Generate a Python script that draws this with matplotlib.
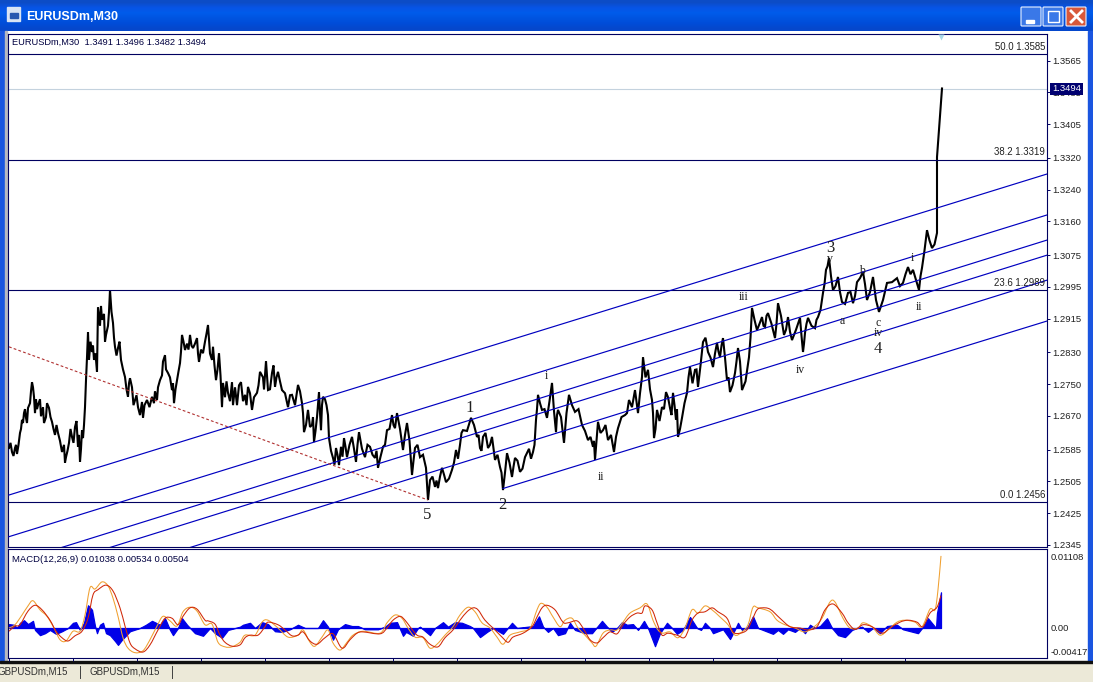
import numpy as np
import matplotlib
matplotlib.use("Agg")
import matplotlib.pyplot as plt
from matplotlib.patches import Rectangle, FancyBboxPatch, PathPatch
from matplotlib.path import Path

# --- price trace (bar position, price) ---
bars = [9,12,15,17,20,22,24,26,28,32,34,35,38,42,44,49,52,55,58,62,66,69,72,75,78,80,82,83,85,86,88,89,92,94,97,98,
        102,106,110,113,115,118,121,125,128,130,135,138,142,143,147,152,157,160,165,168,172,174,177,180,182,185,190,193,197,199,
        203,208,212,213,216,219,222,223,228,232,233,241,245,248,252,257,260,266,268,272,275,278,282,288,292,298,302,304,308,312,
        314,317,319,321,323,328,329,333,336,339,344,347,352,356,359,365,370,375,378,383,387,392,395,397,403,407,412,415,420,426,
        428,430,435,438,442,446,452,456,460,463,471,477,480,483,488,492,495,500,503,507,512,515,520,525,533,536,538,542,547,552,
        556,558,564,569,575,582,588,593,595,598,603,608,614,618,625,629,635,638,642,643,648,652,654,657,662,666,670,673,676,678,
        682,687,690,695,698,703,708,713,717,720,723,727,730,735,738,742,749,752,757,762,765,768,775,778,784,788,792,800,803,805,
        808,815,818,823,826,829,833,838,842,848,853,857,863,867,873,879,887,897,903,908,913,919,922,927,932,937,937,939,940,942]
prices = [1.2592,1.2582,1.2592,1.2577,1.2630,1.2663,1.2680,1.2668,1.2693,1.2758,1.2721,1.2680,1.2700,1.2683,1.2655,1.2693,1.2658,1.2625,1.2630,1.2582,1.2569,1.2605,1.2620,1.2645,1.2595,1.2557,1.2637,1.2617,1.2695,1.2763,1.2884,1.2814,1.2834,1.2814,1.2784,1.2947,
          1.2915,1.2877,1.2990,1.2907,1.2847,1.2844,1.2814,1.2771,1.2721,1.2768,1.2713,1.2695,1.2708,1.2668,1.2713,1.2721,1.2713,1.2763,1.2826,1.2781,1.2738,1.2705,1.2763,1.2806,1.2877,1.2839,1.2877,1.2844,1.2869,1.2809,
          1.2831,1.2902,1.2814,1.2847,1.2763,1.2831,1.2695,1.2756,1.2731,1.2758,1.2700,1.2758,1.2726,1.2746,1.2688,1.2731,1.2784,1.2811,1.2738,1.2781,1.2746,1.2784,1.2738,1.2695,1.2726,1.2751,1.2705,1.2632,1.2688,1.2650,
          1.2607,1.2670,1.2733,1.2637,1.2721,1.2675,1.2617,1.2567,1.2592,1.2549,1.2617,1.2569,1.2620,1.2557,1.2632,1.2569,1.2595,1.2567,1.2542,1.2595,1.2637,1.2675,1.2642,1.2680,1.2587,1.2655,1.2524,1.2592,1.2569,1.2542,
          1.2461,1.2511,1.2494,1.2491,1.2542,1.2506,1.2537,1.2587,1.2600,1.2637,1.2668,1.2620,1.2592,1.2620,1.2592,1.2620,1.2562,1.2544,1.2486,1.2579,1.2519,1.2567,1.2532,1.2569,1.2582,1.2663,1.2726,1.2688,1.2668,1.2756,
          1.2632,1.2688,1.2605,1.2726,1.2683,1.2650,1.2612,1.2595,1.2562,1.2658,1.2637,1.2612,1.2582,1.2642,1.2675,1.2713,1.2738,1.2680,1.2771,1.2821,1.2789,1.2713,1.2617,1.2688,1.2695,1.2733,1.2693,1.2731,1.2663,1.2620,
          1.2668,1.2731,1.2796,1.2789,1.2746,1.2859,1.2834,1.2796,1.2857,1.2821,1.2869,1.2763,1.2733,1.2781,1.2844,1.2738,1.2821,1.2945,1.2889,1.2922,1.2897,1.2932,1.2869,1.2957,1.2877,1.2922,1.2864,1.2920,1.2834,1.2882,
          1.2920,1.2894,1.2922,1.2983,1.3041,1.3071,1.2990,1.3023,1.2960,1.2983,1.2957,1.3010,1.3036,1.2965,1.3023,1.2935,1.3008,1.3020,1.3008,1.3048,1.3041,1.2990,1.3046,1.3141,1.3096,1.3134,1.3325,1.3393,1.3424,1.3498]

# smaller swings between the main turning points
extra_bars = [10.5,13.5,16,18.5,21,23,25,27,30,31,33,36,37,40,41,43,46,47,50.5,53.5,56.5,60,64,65,67.5,70.5,73.5,76.5,79,81,84,87,90.5,93,95.5,96.5,
              100,101,104,105,108,109,111.5,114,116.5,119.5,123,126.5,129,132,133.5,136.5,140,144.5,149.5,154,155,158,162,163,166,170,173,175.5,178.5,181,
              183.5,187,188.5,191.5,195,198,201,205,206.5,210,214.5,217.5,220.5,225,226.5,230,235,237,239,243,246.5,250,254,258.5,263,264,267,270,273.5,276.5,
              280,285,290,295,300,303,306,310,313,315.5,318,320,322,325,326.5,
              331,334.5,337.5,341,342.5,345.5,349.5,354,357.5,362,367.5,372.5,376.5,380.5,385,389.5,393.5,396,400,405,409.5,413.5,417.5,423,427,432.5,436.5,440,444,449,
              454,458,461.5,467,474,478.5,481.5,485.5,490,493.5,497.5,501.5,505,509.5,513.5,517.5,522.5,529,531,534.5,537,540,544.5,549.5,554,557,561,566.5,572,578.5,
              585,590.5,594,596.5,600.5,605.5,611,616,621.5,627,632,636.5,640,
              645.5,650,653,655.5,659.5,664,668,671.5,674.5,677,680,684.5,688.5,692.5,696.5,700.5,705.5,710.5,715,718.5,721.5,725,728.5,732.5,736.5,740,745.5,750.5,754.5,759.5,
              763.5,766.5,771.5,776.5,781,786,790,796,801.5,804,806.5,811.5,816.5,820.5,824.5,827.5,831,835.5,840,845,850.5,855,860,865,870,876,883,892,900,905.5,910.5,916,920.5,924.5,929.5,934.5]
extra_prices = [1.2605,1.2572,1.2600,1.2600,1.2640,1.2655,1.2690,1.2655,1.2705,1.2735,1.2745,1.2715,1.2690,1.2715,1.2672,1.2695,1.2670,1.2705,1.2670,1.2640,1.2650,1.2610,1.2600,1.2555,1.2585,1.2640,1.2605,1.2660,1.2625,1.2590,1.2650,1.2820,1.2860,1.2850,1.2830,1.2800,
                1.2900,1.2950,1.2930,1.2860,1.2900,1.2935,1.2935,1.2870,1.2825,1.2860,1.2790,1.2740,1.2755,1.2745,1.2700,1.2725,1.2675,1.2700,1.2695,1.2705,1.2735,1.2745,1.2775,1.2810,1.2790,1.2770,1.2755,1.2740,1.2785,1.2835,
                1.2860,1.2855,1.2840,1.2850,1.2855,1.2830,1.2840,1.2860,1.2880,1.2830,1.2800,1.2790,1.2775,1.2720,1.2760,1.2710,1.2745,1.2700,1.2750,1.2710,1.2700,1.2730,1.2720,1.2750,1.2770,1.2740,1.2775,1.2740,1.2800,1.2770,
                1.2760,1.2730,1.2725,1.2700,1.2735,1.2680,1.2650,1.2645,1.2670,1.2635,1.2700,1.2680,1.2700,1.2715,1.2700,
                1.2585,1.2550,1.2575,1.2595,1.2570,1.2595,1.2600,1.2590,1.2600,1.2590,1.2600,1.2575,1.2585,1.2570,1.2600,1.2640,1.2650,1.2660,1.2640,1.2625,1.2610,1.2560,1.2600,1.2575,1.2500,1.2520,1.2510,1.2520,1.2525,1.2515,
                1.2555,1.2565,1.2630,1.2635,1.2650,1.2625,1.2585,1.2630,1.2600,1.2590,1.2575,1.2530,1.2530,1.2555,1.2545,1.2560,1.2540,1.2590,1.2565,1.2600,1.2690,1.2705,1.2690,1.2710,1.2685,1.2675,1.2670,1.2680,1.2700,1.2690,
                1.2635,1.2620,1.2610,1.2610,1.2630,1.2650,1.2625,1.2620,1.2670,1.2680,1.2695,1.2710,1.2730,
                1.2770,1.2740,1.2680,1.2640,1.2660,1.2690,1.2720,1.2675,1.2700,1.2690,1.2640,1.2705,1.2770,1.2755,1.2790,1.2800,1.2870,1.2820,1.2830,1.2835,1.2850,1.2820,1.2770,1.2750,1.2810,1.2810,1.2760,1.2870,1.2915,1.2905,
                1.2900,1.2925,1.2905,1.2905,1.2925,1.2890,1.2885,1.2890,1.2875,1.2855,1.2905,1.2900,1.2915,1.2940,1.3005,1.3050,1.3025,1.3000,1.2985,1.2955,1.2985,1.2975,1.3020,1.3005,1.2985,1.2965,1.2965,1.3010,1.3000,1.3030,1.3030,1.3015,1.3025,1.3090,1.3115,1.3105]

# --- fibonacci levels ---
fib_pct = ["50.0", "38.2", "23.6", "0.0"]
fib_levels = [1.3585, 1.3319, 1.2989, 1.2456]
last_price = 1.3494

# --- parallel channel lines: start bar, price there, price at the right edge ---
chan_start = [9, 9, 9, 9, 9, 503]
chan_left = [1.24736, 1.23686, 1.2300, 1.2262, 1.2199, 1.2490]
chan_right = [1.32825, 1.31793, 1.3116, 1.3078, 1.3015, 1.2912]

trend_bars = [9, 428]
trend_prices = [1.2847, 1.2461]

# --- wave count labels ---
wave_text = ["5", "2", "1", "i", "ii", "iii", "iv", "3", "v", "a", "b", "c", "iv", "4", "i", "ii"]
wave_bar = [427, 502, 470, 546, 601, 744, 800, 830, 830, 842, 862, 878, 878, 878, 912, 919]
wave_price = [1.2423, 1.2448, 1.2693, 1.2774, 1.2519, 1.2973, 1.2789, 1.3096, 1.3068, 1.2912, 1.3038, 1.2907, 1.2882, 1.2842, 1.3071, 1.2947]
wave_big = [True, True, True, False, False, False, False, True, False, False, False, False, False, True, False, False]

price_ticks = [1.3565, 1.3485, 1.3405, 1.3320, 1.3240, 1.3160, 1.3075, 1.2995, 1.2915, 1.2830, 1.2750, 1.2670, 1.2585, 1.2505, 1.2425, 1.2345]

# --- MACD panel, values in pips (0.0001) ---
signal_x = [9,15,20,28,35,42,50,56,62,68,75,82,88,93,98,106,113,120,125,130,135,143,150,158,165,172,178,183,190,197,205,208,215,220,225,232,240,245,250,258,265,268,278,285,292,298,303,310,317,325,333,342,350,357,363,380,387,393,400,405,410,417,423,430,438,445,453,460,467,473,478,485,493,502,508,513,523,532,537,542,547,555,563,568,577,583,590,597,603,610,617,623,630,637,642,645,652,657,662,668,677,685,692,698,705,712,718,727,733,740,747,752,757,762,770,780,790,800,808,817,825,833,842,848,855,863,872,882,890,900,908,917,923,930,937,941]
signal_pips = [-5,3,5,26,35,28,12,-5,-15,-20,-12,-5,15,51,59,66,57,31,3,-23,-32,-37,-26,-3,15,15,5,18,31,29,12,11,6,-11,-22,-28,-26,-15,-11,-11,2,9,5,-3,-12,-11,-6,-20,-25,-15,-9,-31,-18,-8,-6,-9,0,12,18,12,2,-11,-14,-25,-29,-15,-3,12,25,31,28,12,0,-14,-22,-14,-8,2,17,31,35,28,9,8,11,0,-18,-23,-15,-6,-9,5,17,23,23,34,28,8,-11,-8,-11,-14,12,23,25,31,25,15,-6,-8,-3,12,28,31,29,15,2,0,-3,2,28,37,23,8,-2,5,2,-8,0,9,12,9,2,23,32,50]

main_x = [9,15,22,28,33,40,47,54,60,66,73,80,85,90,95,102,108,113,118,123,128,135,143,150,157,163,170,177,183,190,197,205,212,218,225,232,240,245,255,262,268,278,288,298,303,310,315,322,328,333,340,347,353,363,380,387,395,402,408,415,423,430,437,445,453,460,468,475,482,490,497,503,510,520,530,537,541,547,553,560,565,572,578,585,592,596,603,610,617,623,630,640,647,653,658,663,670,678,685,692,698,705,712,720,728,735,742,748,753,758,770,777,785,795,805,815,822,830,835,843,850,858,863,872,880,888,897,905,915,922,930,935,938,941]
main_pips = [0,5,20,34,42,28,18,0,-18,-20,-5,-5,20,62,60,71,65,46,18,-15,-31,-38,-35,-18,3,18,11,3,25,32,26,5,6,-22,-29,-29,-22,-11,-11,9,12,0,-14,-11,-3,-22,-28,-14,-3,-23,-34,-22,-11,-5,-8,8,20,15,0,-14,-15,-31,-25,-11,2,20,32,25,8,0,-14,-25,-11,-6,0,28,38,32,17,2,12,15,0,-11,-23,-28,-8,-3,-3,9,23,31,37,12,-3,-8,-6,-15,0,28,23,34,28,17,5,-11,-6,5,32,31,25,12,5,0,-6,3,15,40,40,15,0,0,8,2,-11,-3,9,12,9,2,29,28,59,111]

hist_x = [9,14,17,20,24,28,33,35,40,45,50,56,62,68,73,76,80,84,88,92,95,97,100,103,106,110,115,118,122,130,140,146,152,160,165,170,173,178,182,187,195,203,210,215,222,228,240,243,250,255,262,268,275,282,290,298,305,313,318,323,328,333,338,345,352,358,365,378,385,390,397,403,406,413,418,420,430,435,443,448,455,462,470,473,480,487,493,503,512,517,533,539,543,548,553,558,565,570,575,585,592,602,607,612,617,622,627,633,638,644,648,655,660,667,672,677,683,690,697,701,705,710,713,723,730,735,738,742,747,753,758,773,778,783,788,795,800,805,810,815,820,827,832,838,845,852,857,862,868,873,880,887,897,903,918,923,928,936,937,941]
hist_pips = [6,5,0,8,12,6,11,-3,-11,-8,-3,-9,-5,0,8,9,-3,8,35,28,3,-8,5,8,-8,-11,-20,-26,-18,-5,0,5,11,5,15,-3,-11,0,15,5,-8,-12,0,-8,-15,-3,2,5,8,0,9,6,-5,-6,-2,5,0,0,0,12,2,-18,-2,6,3,3,-2,-2,2,8,9,-12,-6,-12,0,2,-11,0,9,2,9,8,3,0,-14,-6,0,-9,8,0,3,18,2,-6,0,-11,-8,8,-3,-8,-8,11,2,-6,0,9,5,6,-3,11,0,-28,-8,8,0,-9,-3,17,0,-3,8,0,-8,-2,-17,-2,8,-3,0,18,0,-9,-3,-9,-2,-6,0,-8,5,0,3,15,0,-11,-14,-3,0,2,-6,0,-8,3,5,-2,-8,2,15,0,23,55]

macd_tick_labels = ["0.01108", "0.00", "-0.00417"]
macd_tick_pos = [0.01108, 0.0001, -0.0036]
time_ticks = np.arange(9, 906, 64)

W, H = 1093, 682
NAVY = "#000060"
BLUE = "#0000c0"
TEXT = "#000040"
LABEL_NUDGE = 0.0003  # the terminal draws its price labels a pixel above the true level
plt.rcParams["font.family"] = ["Liberation Sans", "DejaVu Sans"]


def axes_px(fig, left, top, right, bottom):
    # axes from pixel edges measured on the screenshot
    return fig.add_axes([left / W, 1 - bottom / H, (right - left) / W, (bottom - top) / H])


def curve_through(ax, x, y, color, zorder):
    # rounded line through the read points, the terminal's lines are smooth
    n = len(x)
    verts = [(x[0], y[0])]
    codes = [Path.MOVETO]
    for i in range(n - 1):
        a, d = max(i - 1, 0), min(i + 2, n - 1)
        verts.append((x[i] + (x[i + 1] - x[a]) / 6, y[i] + (y[i + 1] - y[a]) / 6))
        verts.append((x[i + 1] - (x[d] - x[i]) / 6, y[i + 1] - (y[d] - y[i]) / 6))
        verts.append((x[i + 1], y[i + 1]))
        codes += [Path.CURVE4] * 3
    ax.add_patch(PathPatch(Path(verts, codes), fc="none", ec=color, lw=0.75, zorder=zorder))


fig = plt.figure(figsize=(W / 100, H / 100), dpi=100, facecolor="white")

# --- window chrome behind the panels ---
bg = fig.add_axes([0, 0, 1, 1])
bg.set_xlim(0, W)
bg.set_ylim(H, 0)
bg.axis("off")
grad = np.array([[0.05, 0.30, 0.78], [0.03, 0.33, 0.90], [0.00, 0.36, 0.92], [0.00, 0.33, 0.88], [0.00, 0.30, 0.85], [0.02, 0.28, 0.80]])
bg.imshow(grad[:, None, :], extent=[0, W, 31, 0], aspect="auto", interpolation="bilinear", zorder=1)
bg.set_xlim(0, W)
bg.set_ylim(H, 0)
bg.add_patch(Rectangle((0, 31), 5, 630, color="#1a55e0", zorder=1))
bg.add_patch(Rectangle((5, 31), 2, 630, color="#b8b8c0", zorder=1))
bg.add_patch(Rectangle((1088, 31), 5, 630, color="#1a55e0", zorder=1))
bg.add_patch(Rectangle((0, 663), W, 19, color="#ece9d8", zorder=1))
bg.add_patch(Rectangle((0, 661), W, 2, color="#101010", zorder=2))
bg.add_patch(Rectangle((7, 7), 13, 14, color="#d8e4f4", zorder=2))
bg.add_patch(Rectangle((10, 13), 8, 5, color="#2858b0", zorder=3))
bg.text(26, 17, "EURUSDm,M30", color="white", fontsize=9, fontweight="bold", va="center", zorder=3)
for left, face in [(1021, "#3a78e8"), (1043, "#3a78e8"), (1066, "#d8583a")]:
    bg.add_patch(FancyBboxPatch((left + 1, 8), 18, 17, boxstyle="round,pad=1", fc=face, ec="#e8f0ff", lw=0.8, zorder=2))
bg.add_patch(Rectangle((1026, 20), 8, 3, color="white", zorder=3))
bg.add_patch(Rectangle((1048, 11), 11, 11, fc="none", ec="white", lw=1, zorder=3))
bg.plot([1071, 1082], [11, 22], color="white", lw=2, zorder=3)
bg.plot([1071, 1082], [22, 11], color="white", lw=2, zorder=3)
bg.text(-2, 672, "GBPUSDm,M15", fontsize=7, color="#303030", va="center", zorder=3)
bg.text(90, 672, "GBPUSDm,M15", fontsize=7, color="#303030", va="center", zorder=3)
bg.plot([80, 80], [666, 678], color="#404040", lw=0.7, zorder=3)
bg.plot([172, 172], [666, 678], color="#404040", lw=0.7, zorder=3)

# --- main price panel ---
ax = axes_px(fig, 8, 34, 1047, 547)
ax.set_xlim(8, 1047)
ax.set_ylim(1.3721 - 0.000252 * 547, 1.3721 - 0.000252 * 34)
all_bars = np.array(bars + extra_bars)
all_prices = np.array(prices + extra_prices)
order = np.argsort(all_bars, kind="stable")
ax.plot(all_bars[order], all_prices[order], color="black", lw=1.5, solid_joinstyle="miter", zorder=3)

for lvl, pct in zip(fib_levels, fib_pct):
    ax.axhline(lvl, color=NAVY, lw=0.8, zorder=4)
    ax.text(1045, lvl + 0.0006, f"{pct} {lvl:.4f}", fontsize=6.9, color="#202020", ha="right", va="bottom", zorder=6)
ax.axhline(last_price + LABEL_NUDGE, color="#c4d2de", lw=0.8, zorder=2)

for x0, p0, p1 in zip(chan_start, chan_left, chan_right):
    ax.plot([x0, 1047], [p0, p1], color=BLUE, lw=0.85, zorder=4)
ax.plot(trend_bars, trend_prices, color="#b03030", lw=0.8, ls=(0, (2.5, 2)), zorder=4)
ax.plot([941], [1.3627], marker="v", ms=5, color="#a8d8e8", mec="none", zorder=5)

for txt, x, p, big in zip(wave_text, wave_bar, wave_price, wave_big):
    ax.text(x, p, txt, fontsize=12 if big else 8.5, family="Liberation Serif", color="#202020", ha="center", va="center", zorder=6)

ax.text(4 / 1039, 1 - 8 / 513, "EURUSDm,M30  1.3491 1.3496 1.3482 1.3494", transform=ax.transAxes,
        fontsize=6.7, color=TEXT, va="center")
ax.set_xticks([])
ax.yaxis.tick_right()
ax.set_yticks(np.array(price_ticks) + LABEL_NUDGE)
ax.set_yticklabels([f"{t:.4f}" for t in price_ticks], fontsize=6.8, color="#202020")
ax.tick_params(axis="y", length=2.5, width=0.7, color=NAVY, pad=1)
ax.text(1052, last_price + LABEL_NUDGE, f"{last_price:.4f}", fontsize=6.8, color="white", va="center", clip_on=False, zorder=10,
        bbox=dict(boxstyle="square,pad=0.18", fc="#000070", ec="none"))
for s in ax.spines.values():
    s.set_color(NAVY)
    s.set_linewidth(0.8)

# --- MACD panel ---
mx = axes_px(fig, 8, 549, 1047, 658)
mx.set_xlim(8, 1047)
mx.set_ylim(-30 * 0.000154, 79 * 0.000154)
mx.fill_between(hist_x, np.array(hist_pips) / 1e4, 0, color="#0000e8", lw=0.9, zorder=2)
curve_through(mx, main_x, [v / 1e4 for v in main_pips], "#f0a030", 3)
curve_through(mx, signal_x, [v / 1e4 for v in signal_pips], "#d02808", 4)
mx.text(4 / 1039, 1 - 10 / 109, "MACD(12,26,9) 0.01038 0.00534 0.00504", transform=mx.transAxes, fontsize=6.8, color=TEXT, va="center")
mx.yaxis.tick_right()
mx.set_yticks(macd_tick_pos)
mx.set_yticklabels(macd_tick_labels, fontsize=6.8, color="#202020")
mx.tick_params(axis="y", length=0, pad=2.5)
mx.set_xticks(time_ticks)
mx.set_xticklabels([])
mx.tick_params(axis="x", length=2.5, width=0.7, color=NAVY)
for s in mx.spines.values():
    s.set_color(NAVY)
    s.set_linewidth(0.8)

fig.savefig("out.png", dpi=100)
